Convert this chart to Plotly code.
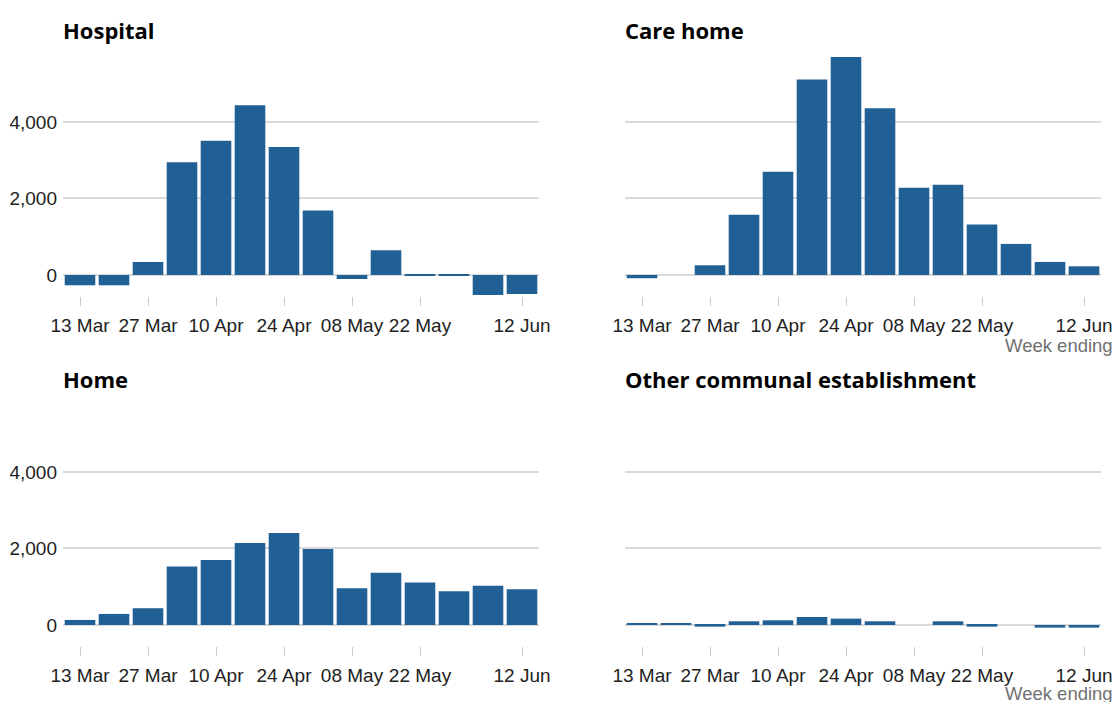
import plotly.graph_objects as go

weeks = ["13 Mar", "20 Mar", "27 Mar", "03 Apr", "10 Apr", "17 Apr", "24 Apr",
         "01 May", "08 May", "15 May", "22 May", "29 May", "05 Jun", "12 Jun"]
tick_weeks = ["13 Mar", "27 Mar", "10 Apr", "24 Apr", "08 May", "22 May", "12 Jun"]

hospital = [-270, -270, 340, 2950, 3510, 4440, 3345, 1686, -105, 646, -25, -25, -524, -498]
care_home = [-85, 0, 253, 1572, 2699, 5109, 5700, 4358, 2279, 2358, 1319, 812, 341, 227]
home = [131, 289, 438, 1532, 1698, 2144, 2407, 1987, 963, 1365, 1112, 884, 1024, 937]
other = [35, 35, -44, 96, 122, 209, 166, 96, 0, 96, -44, 0, -70, -70]

titles = ["Hospital", "Care home", "Home", "Other communal establishment"]
series = [hospital, care_home, home, other]

W, H = 1115, 702
BAR = "#206095"
GRID = "#d9d9d9"
TICKFONT = dict(family="Liberation Sans, Arial, sans-serif", size=19, color="#222222")

# panel pixel boxes: (left, right, top, bottom)
boxes = [(63, 539, 57, 296), (625, 1101, 57, 296), (63, 539, 407, 646), (625, 1101, 407, 646)]

fig = go.Figure()
layout = dict(
    width=W, height=H, margin=dict(l=0, r=0, t=0, b=0, autoexpand=False),
    paper_bgcolor="white", plot_bgcolor="white", showlegend=False,
    bargap=0.1, annotations=[],
)

for i, (vals, title, box) in enumerate(zip(series, titles, boxes)):
    n = "" if i == 0 else str(i + 1)
    xa, ya = "x" + n, "y" + n
    fig.add_trace(go.Bar(x=weeks, y=vals, marker=dict(color=BAR, line=dict(width=0)),
                         xaxis=xa, yaxis=ya, hoverinfo="x+y"))
    l, r, t, b = box
    layout["xaxis" + n] = dict(
        domain=[l / W, r / W], anchor=ya, type="category",
        categoryorder="array", categoryarray=weeks,
        range=[-0.5, len(weeks) - 0.5], automargin=False,
        tickmode="array", tickvals=tick_weeks, ticktext=tick_weeks,
        ticks="outside", ticklen=9, tickcolor="#cccccc", tickwidth=1,
        showline=False, showgrid=False, zeroline=False,
        tickfont=TICKFONT, tickangle=0, ticklabelstandoff=3, fixedrange=True,
    )
    layout["yaxis" + n] = dict(
        domain=[1 - b / H, 1 - t / H], anchor=xa, automargin=False,
        range=[-550, 5700], tickvals=[0, 2000, 4000], tickformat=",",
        showgrid=True, gridcolor=GRID, gridwidth=1.5,
        zeroline=True, zerolinecolor=GRID, zerolinewidth=1.5,
        showline=False, ticks="", showticklabels=(i % 2 == 0),
        tickfont=TICKFONT, ticklabelstandoff=5, fixedrange=True,
    )
    layout["annotations"].append(dict(
        text="<b>" + title + "</b>", xref="paper", yref="paper",
        x=(l - 2) / W, y=1 - (29.5 if i < 2 else 378.5) / H,
        xanchor="left", yanchor="middle", showarrow=False,
        font=dict(family="Open Sans, sans-serif", size=22, color="#000000"),
    ))

for yy in (346, 693):
    layout["annotations"].append(dict(
        text="Week ending", xref="paper", yref="paper",
        x=1115 / W, y=1 - yy / H, xanchor="right", yanchor="middle", showarrow=False,
        font=dict(family="Liberation Sans, Arial, sans-serif", size=18.5, color="#707070"),
    ))

fig.update_layout(**layout)
fig.write_html("out.html", config={"displayModeBar": False},
               post_script="document.body.style.margin='0';")
